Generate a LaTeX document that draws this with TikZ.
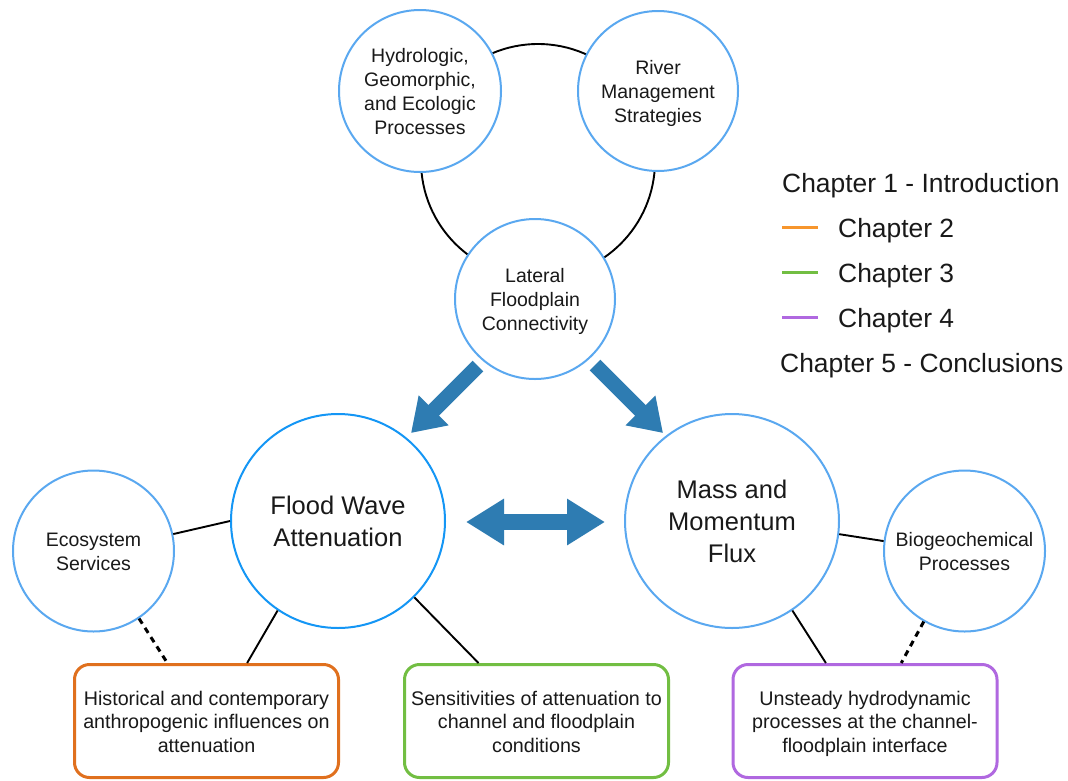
\documentclass[tikz,border=0pt]{standalone}
\usepackage{fontspec}
\setmainfont{Liberation Sans}
\usetikzlibrary{arrows.meta,calc}
\definecolor{circblue}{RGB}{90,168,240}
\definecolor{floodblue}{RGB}{20,150,245}
\definecolor{arrowblue}{RGB}{46,124,178}
\definecolor{boxorange}{RGB}{224,112,30}
\definecolor{boxgreen}{RGB}{114,190,66}
\definecolor{boxpurple}{RGB}{176,104,224}
\definecolor{legorange}{RGB}{247,150,45}
\definecolor{txt}{RGB}{25,25,25}
\newcommand{\lowtxt}[1]{\raisebox{-3pt}[\height][\depth]{\begin{tabular}{@{}c@{}}#1\end{tabular}}}
\begin{document}
\begin{tikzpicture}[x=1pt,y=-1pt,
 circ/.style={circle,draw=circblue,line width=2pt,fill=white,inner sep=0pt,text=txt,font=\fontsize{19.5}{24}\selectfont},
 bigcirc/.style={circ,font=\fontsize{25.5}{32}\selectfont},
 chbox/.style={rectangle,rounded corners=15pt,line width=3pt,fill=white,minimum width=264pt,minimum height=113pt,inner sep=0pt,text=txt,font=\fontsize{19.7}{23.5}\selectfont},
 link/.style={draw=black,line width=1.9pt},
 dlink/.style={draw=black,line width=3pt,dash pattern=on 6pt off 5pt},
 fat/.style={draw=arrowblue,line width=15pt},
 legtext/.style={anchor=base west,text=txt,font=\fontsize{26.4}{30}\selectfont,inner sep=0pt},
 legline/.style={line width=3pt}
]
\useasboundingbox[fill=white] (0,0) rectangle (1068,780);

% ring behind the top three circles
\coordinate (ring) at (538,161);
\draw[link] (ring) circle[radius=117];

% top circles
\node[circ,minimum size=162pt] (hyd) at (420,91) {\lowtxt{Hydrologic,\\Geomorphic,\\and Ecologic\\Processes}};
\node[circ,minimum size=160pt] (riv) at (658,91) {\lowtxt{River\\Management\\Strategies}};
\node[circ,minimum size=160pt] (lat) at (535,299) {\lowtxt{Lateral\\Floodplain\\Connectivity}};

% middle circles
\node[bigcirc,draw=floodblue,minimum size=214pt] (flood) at (338,521) {\lowtxt{Flood Wave\\Attenuation}};
\node[bigcirc,minimum size=214pt] (mass) at (732,521) {\lowtxt{Mass and\\Momentum\\Flux}};
\node[circ,minimum size=161pt] (eco) at (93.5,551) {\lowtxt{Ecosystem\\Services}};
\node[circ,minimum size=161pt] (bio) at (964.5,551) {\lowtxt{Biogeochemical\\Processes}};

% chapter boxes
\node[chbox,draw=boxorange] (ch2) at (206.5,721) {\lowtxt{Historical and contemporary\\anthropogenic influences on\\attenuation}};
\node[chbox,draw=boxgreen] (ch3) at (536.5,721) {\lowtxt{Sensitivities of attenuation to\\channel and floodplain\\conditions}};
\node[chbox,draw=boxpurple] (ch4) at (865,721) {\lowtxt{Unsteady hydrodynamic\\processes at the channel-\\floodplain interface}};

% connectors
\draw[link] (eco.12.6) -- (flood.180);
\draw[link] (flood.236.9) -- (ch2.55.7);
\draw[link] (flood.-45) -- (ch3.135.7);
\draw[dlink] (eco.-56.4) -- (ch2.124.3);
\draw[link] (mass.-7.9) -- (bio.173);
\draw[link] (mass.-56.7) -- (ch4.124.6);
\draw[dlink] (bio.-120) -- (ch4.58.9);

% fat arrows
\coordinate (a1s) at (478,366);
\coordinate (a1e) at (411,433);
\coordinate (a2s) at (595,365);
\coordinate (a2e) at (663,433);
\coordinate (a3l) at (466,522);
\coordinate (a3r) at (605,522);
\draw[fat,-{Triangle[width=40pt,length=32pt]}] (a1s) -- (a1e);
\draw[fat,-{Triangle[width=40pt,length=32pt]}] (a2s) -- (a2e);
\draw[draw=arrowblue,line width=16pt,{Triangle[width=44pt,length=38pt]}-{Triangle[width=44pt,length=38pt]}] (a3l) -- (a3r);

% legend
\node[legtext] (l1) at (782,192) {Chapter 1 - Introduction};
\node[legtext] (l2) at (838,237) {Chapter 2};
\node[legtext] (l3) at (838,282) {Chapter 3};
\node[legtext] (l4) at (838,327) {Chapter 4};
\node[legtext] (l5) at (780,372) {Chapter 5 - Conclusions};
\coordinate (k2a) at (782,227); \coordinate (k2b) at (818,227);
\coordinate (k3a) at (782,272); \coordinate (k3b) at (818,272);
\coordinate (k4a) at (782,317); \coordinate (k4b) at (818,317);
\draw[legline,draw=legorange] (k2a) -- (k2b);
\draw[legline,draw=boxgreen] (k3a) -- (k3b);
\draw[legline,draw=boxpurple] (k4a) -- (k4b);
\end{tikzpicture}
\end{document}
